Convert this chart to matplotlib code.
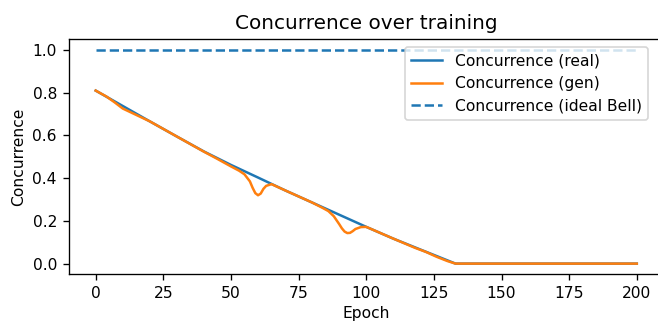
import matplotlib
matplotlib.use("Agg")
import matplotlib.pyplot as plt

# values
epochs_real = [0, 10, 20, 30, 40, 50, 60, 70, 80, 90, 100, 110, 120, 133, 150, 175, 200]
conc_real = [0.81, 0.738, 0.666, 0.595, 0.525, 0.462, 0.403, 0.343, 0.286, 0.229,
             0.172, 0.117, 0.066, 0.0, 0.0, 0.0, 0.0]

epochs_gen = [0, 4, 7, 10, 13, 16, 20, 30, 40, 45, 50, 53, 55, 57, 58, 59, 60, 61, 62,
              63, 65, 70, 80, 84, 86, 88, 90, 91, 92, 93, 94, 95, 96, 98, 100, 110,
              118, 122, 126, 130, 133, 150, 200]
conc_gen = [0.81, 0.782, 0.755, 0.726, 0.708, 0.690, 0.666, 0.595, 0.524, 0.490,
            0.455, 0.435, 0.418, 0.385, 0.355, 0.330, 0.320, 0.328, 0.350,
            0.364, 0.372, 0.343, 0.286, 0.260, 0.246, 0.222, 0.185, 0.165, 0.150,
            0.143, 0.144, 0.152, 0.162, 0.171, 0.172, 0.117,
            0.074, 0.055, 0.032, 0.012, 0.0, 0.0, 0.0]

epochs_ideal = [0, 200]
conc_ideal = [1.0, 1.0]

plt.rcParams["font.size"] = 9.3

fig = plt.figure(figsize=(658 / 120, 325 / 120), dpi=120)
ax = fig.add_axes([0.1043, 0.156, 0.9046, 0.723])

ax.plot(epochs_real, conc_real, color="C0", label="Concurrence (real)")
ax.plot(epochs_gen, conc_gen, color="C1", label="Concurrence (gen)")
ax.plot(epochs_ideal, conc_ideal, color="C0", linestyle="--", label="Concurrence (ideal Bell)")

ax.set_xticks([0, 25, 50, 75, 100, 125, 150, 175, 200])
ax.set_yticks([0.0, 0.2, 0.4, 0.6, 0.8, 1.0])
ax.set_xlabel("Epoch", labelpad=3)
ax.set_ylabel("Concurrence")
ax.set_title("Concurrence over training", fontsize=12)
ax.legend(loc="upper right", bbox_to_anchor=(0.9735, 0.967), borderaxespad=0)

fig.savefig("out.png", dpi=120)
